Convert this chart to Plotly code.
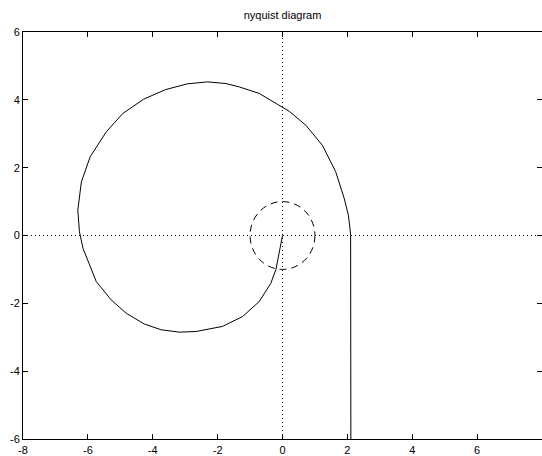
import plotly.graph_objects as go

# Nyquist locus: real and imaginary parts, from low frequency (bottom) to high frequency (origin)
re_vals = [2.11, 2.11, 2.10, 2.08, 2.03, 1.90, 1.64, 1.23, 0.72, 0.21, -0.10, -0.72, -1.33,
           -1.74, -2.31, -2.94, -3.61, -4.28, -4.92, -5.43, -5.93, -6.10, -6.20, -6.31,
           -6.26, -6.15, -5.95, -5.74, -5.28, -4.82, -4.26, -3.74, -3.18, -2.66, -1.85,
           -1.23, -0.72, -0.36, -0.20, -0.10, -0.02, 0.0]
im_vals = [-8.0, -2.0, 0.0, 0.21, 0.60, 1.10, 1.88, 2.66, 3.25, 3.66, 3.84, 4.19, 4.38,
           4.48, 4.53, 4.47, 4.30, 4.02, 3.60, 3.06, 2.32, 1.81, 1.58, 0.75,
           0.11, -0.38, -0.85, -1.36, -1.90, -2.29, -2.61, -2.78, -2.85, -2.83, -2.68,
           -2.39, -1.95, -1.41, -0.99, -0.52, -0.04, 0.0]

# Unit circle radius and axis limits / ticks
unit_radius = 1.0
x_range = [-8, 8]
y_range = [-6, 6]
x_ticks = [-8, -6, -4, -2, 0, 2, 4, 6, 8]
y_ticks = [-6, -4, -2, 0, 2, 4, 6]
origin = 0

font = dict(family="Liberation Sans, Arial, Helvetica, sans-serif", size=11, color="black")

fig = go.Figure()
fig.add_trace(go.Scatter(x=re_vals, y=im_vals, mode="lines",
                         line=dict(color="black", width=1), showlegend=False,
                         hoverinfo="skip"))

shapes = [
    # dotted axes through the origin
    dict(type="line", xref="x", yref="paper", x0=origin, x1=origin, y0=0, y1=1,
         line=dict(color="black", width=1, dash="1px,3px"), layer="below"),
    dict(type="line", xref="paper", yref="y", x0=0, x1=1, y0=origin, y1=origin,
         line=dict(color="black", width=1, dash="1px,3px"), layer="below"),
    # dashed unit circle
    dict(type="circle", xref="x", yref="y",
         x0=-unit_radius, x1=unit_radius, y0=-unit_radius, y1=unit_radius,
         line=dict(color="black", width=1, dash="7px,5px")),
]

axis_common = dict(showgrid=False, zeroline=False, showline=True, linecolor="black",
                   linewidth=1, ticks="inside", ticklen=5, tickwidth=1,
                   tickcolor="black", mirror="ticks", tickfont=font)

fig.update_layout(
    width=542, height=456,
    margin=dict(l=23, r=0, t=32, b=17),
    paper_bgcolor="white", plot_bgcolor="white",
    font=font,
    title=dict(text="nyquist diagram", x=0.5, xref="paper", xanchor="center",
               y=1 - 15 / 456, yref="container", yanchor="middle",
               font=dict(family=font["family"], size=11, color="black")),
    xaxis=dict(range=x_range, tickvals=x_ticks, ticktext=[str(v) for v in x_ticks],
               ticklabelstandoff=1, **axis_common),
    yaxis=dict(range=y_range, tickvals=y_ticks, ticktext=[str(v) for v in y_ticks],
               **axis_common),
    shapes=shapes,
)

fig.write_html("out.html")
